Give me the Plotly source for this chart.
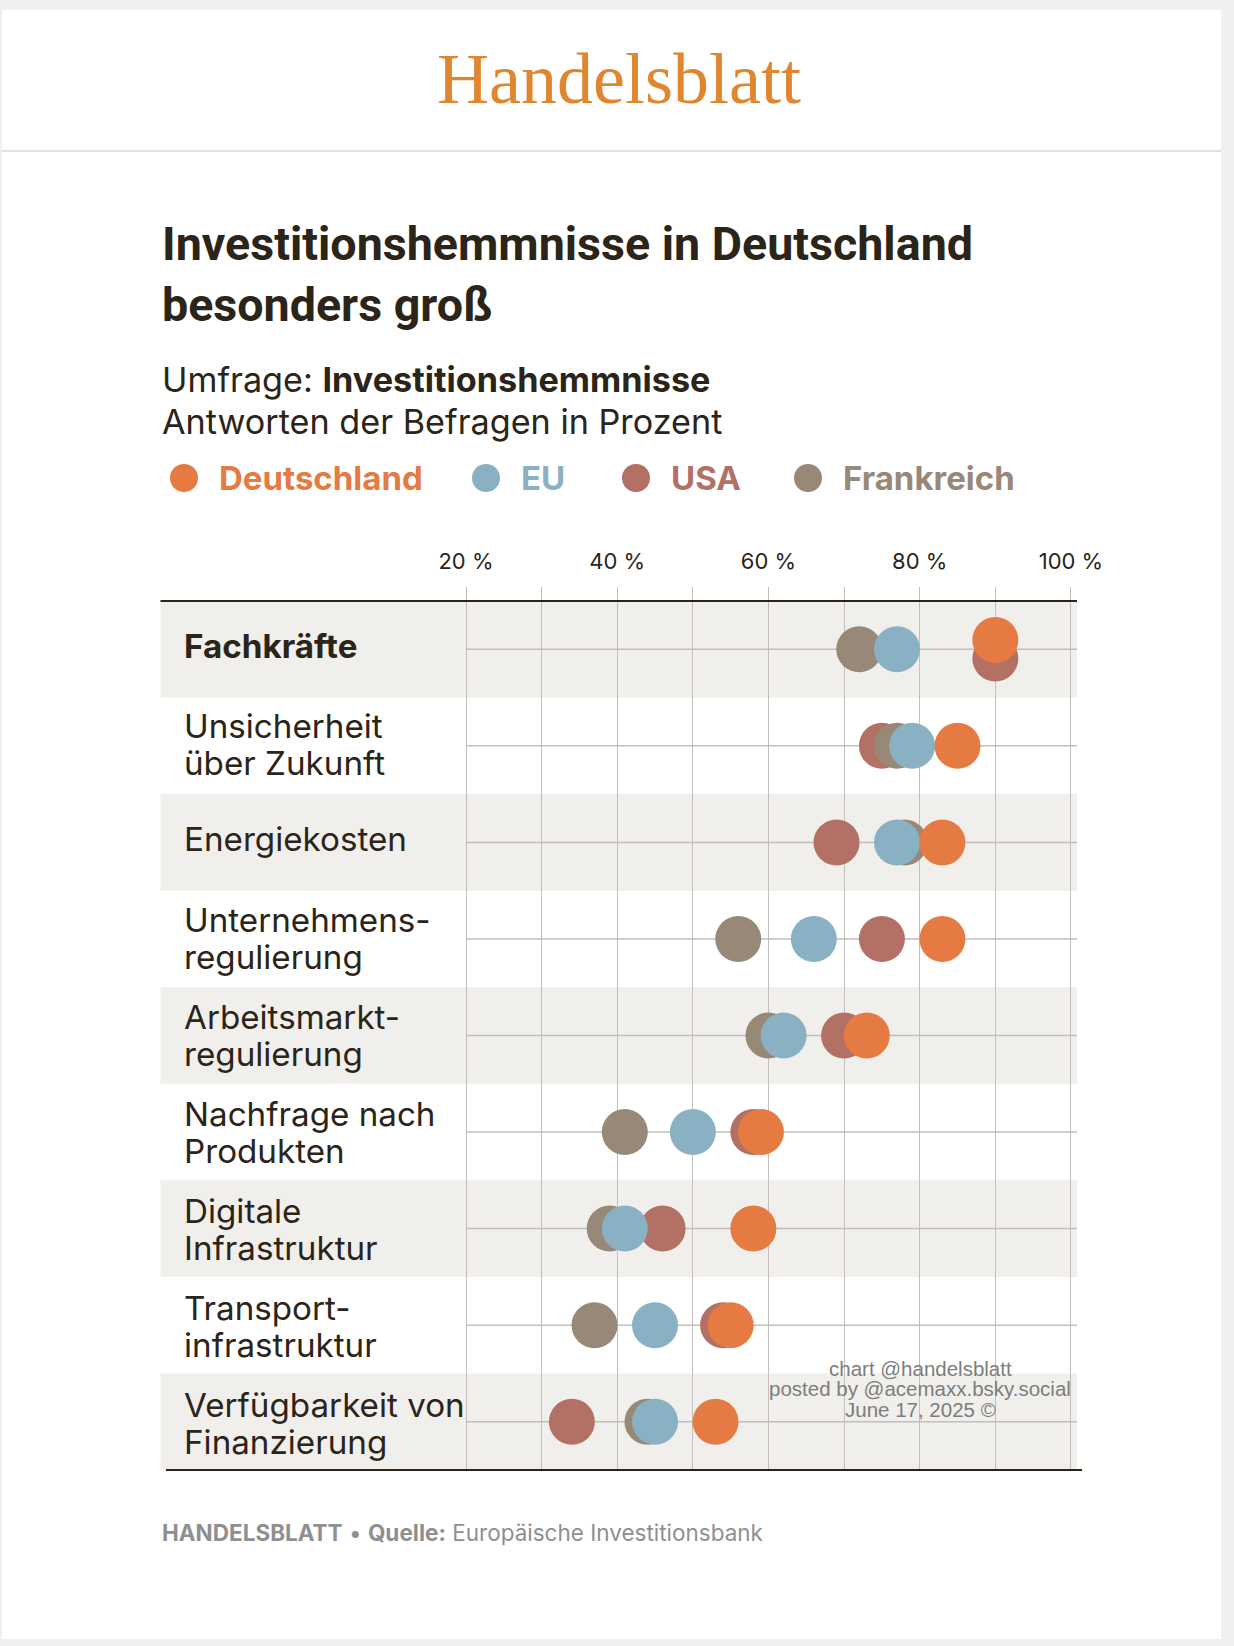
import plotly.graph_objects as go

# ---------------- data ----------------
categories = [
    "Fachkräfte",
    "Unsicherheit<br>über Zukunft",
    "Energiekosten",
    "Unternehmens-<br>regulierung",
    "Arbeitsmarkt-<br>regulierung",
    "Nachfrage nach<br>Produkten",
    "Digitale<br>Infrastruktur",
    "Transport-<br>infrastruktur",
    "Verfügbarkeit von<br>Finanzierung",
]
deutschland = [90, 85, 83, 83, 73, 59, 58, 55, 53]
eu = [77, 79, 77, 66, 62, 50, 41, 45, 45]
usa = [90, 75, 69, 75, 70, 58, 46, 54, 34]
frankreich = [72, 77, 78, 56, 60, 41, 39, 37, 44]

series_names = ["Deutschland", "EU", "USA", "Frankreich"]
tick_values = [20, 40, 60, 80, 100]
tick_labels = ["20 %", "40 %", "60 %", "80 %", "100 %"]
minor_tick_values = [30, 50, 70, 90]

# ---------------- styles ----------------
W, H = 1234, 1646
DARK = "#2b2418"
GRID = "#c3beb9"
BAND = "#f1efec"
COLORS = {
    "Deutschland": "#e57b42",
    "EU": "#8ab0c3",
    "USA": "#b37064",
    "Frankreich": "#978878",
}
SANS = "Inter, Roboto, 'Open Sans', sans-serif"
TITLE_FONT = "Roboto, 'Liberation Sans', sans-serif"


def px(x):
    return x / W


def py(y):
    return 1 - y / H


PLOT_L, PLOT_R, PLOT_T, PLOT_B = 160.5, 1077, 601, 1470
X_MIN, X_MAX = -20.4, 100.8

values = {
    "Deutschland": deutschland,
    "EU": eu,
    "USA": usa,
    "Frankreich": frankreich,
}

# small vertical offsets for exactly coinciding dots (as in the original)
offsets = {n: [0.0] * len(categories) for n in series_names}
for i in range(len(categories)):
    groups = {}
    for n in series_names:
        groups.setdefault(values[n][i], []).append(n)
    for members in groups.values():
        k = len(members)
        if k > 1:
            for j, n in enumerate(members):
                offsets[n][i] = (j - (k - 1) / 2) * 0.19

fig = go.Figure()

draw_order = ["USA", "Frankreich", "EU", "Deutschland"]
for n in draw_order:
    fig.add_trace(
        go.Scatter(
            x=values[n],
            y=[i + offsets[n][i] for i in range(len(categories))],
            mode="markers",
            name=n,
            marker=dict(size=46, color=COLORS[n], line=dict(width=0)),
            showlegend=False,
            hoverinfo="x+name",
        )
    )

shapes = []
# white card + header separator
shapes.append(dict(type="rect", xref="paper", yref="paper", x0=px(2), x1=px(1221),
                   y0=py(1639), y1=py(10), fillcolor="white", line=dict(width=0), layer="below"))
shapes.append(dict(type="line", xref="paper", yref="paper", x0=px(2), x1=px(1221),
                   y0=py(151), y1=py(151), line=dict(color="#e2e2e2", width=2), layer="below"))

# row bands and row centre lines
for i in range(len(categories)):
    if i % 2 == 0:
        shapes.append(dict(type="rect", xref="x domain", yref="y", x0=0, x1=1,
                           y0=i - 0.5, y1=i + 0.5, fillcolor=BAND, line=dict(width=0), layer="below"))
    shapes.append(dict(type="line", xref="x", yref="y", x0=tick_values[0], x1=X_MAX,
                       y0=i, y1=i, line=dict(color=GRID, width=1.5), layer="between"))

# top and bottom rules
shapes.append(dict(type="line", xref="paper", yref="paper", x0=px(PLOT_L), x1=px(PLOT_R),
                   y0=py(PLOT_T), y1=py(PLOT_T), line=dict(color=DARK, width=2)))
shapes.append(dict(type="line", xref="paper", yref="paper", x0=px(166), x1=px(1082),
                   y0=py(PLOT_B), y1=py(PLOT_B), line=dict(color=DARK, width=2)))

annotations = []


def text(x, y, s, size, color=DARK, family=SANS, xanchor="left"):
    annotations.append(dict(x=px(x), y=py(y), xref="paper", yref="paper", text=s,
                            showarrow=False, xanchor=xanchor, yanchor="middle",
                            font=dict(size=size, color=color, family=family)))


# logo
text(619, 79, "Handelsblatt", 72, color="#e0862f",
     family="'Liberation Serif', 'DejaVu Serif', serif", xanchor="center")
# title
text(160, 244, "<b>Investitionshemmnisse in Deutschland</b>", 46.6, family=TITLE_FONT)
text(160, 305, "<b>besonders groß</b>", 46.6, family=TITLE_FONT)
# subtitle
text(160, 380, "Umfrage: <b>Investitionshemmnisse</b>", 34.2)
text(160, 421, "Antworten der Befragen in Prozent", 34.2)

# legend
legend_x = {"Deutschland": 184, "EU": 486, "USA": 636, "Frankreich": 808}
for n in series_names:
    cx, cy, r = legend_x[n], 478, 14
    shapes.append(dict(type="circle", xref="paper", yref="paper",
                       x0=px(cx - r), x1=px(cx + r), y0=py(cy + r), y1=py(cy - r),
                       fillcolor=COLORS[n], line=dict(width=0)))
    text(cx + 33, cy, f"<b>{n}</b>", 33, color=COLORS[n])

# category labels (drawn line by line for tight leading)
LEAD = 37.2
for i, cat in enumerate(categories):
    lines = cat.split("<br>")
    k = len(lines)
    for j, line in enumerate(lines):
        s = f"<b>{line}</b>" if i == 0 else line
        if k == 1:
            shift = 3.5
        else:
            shift = -((j - (k - 1) / 2) * LEAD) + 2 - (0.45 * i + 0.3)
        annotations.append(dict(x=px(182), xref="paper", y=i, yref="y", text=s,
                                showarrow=False, xanchor="left", yanchor="middle",
                                yshift=shift,
                                font=dict(size=33.2, color=DARK, family=SANS)))

# footer
text(160, 1532, "<b>HANDELSBLATT</b> • <b>Quelle:</b> Europäische Investitionsbank", 22.5, color="#8f8f8f")

# watermark
for j, s in enumerate(["chart @handelsblatt", "posted by @acemaxx.bsky.social", "June 17, 2025 ©"]):
    text(920, 1368 + j * 20.5, s, 20.5, color="#7d7d7d",
         family="'Liberation Sans', Arial, sans-serif", xanchor="center")

fig.update_layout(
    width=W,
    height=H,
    margin=dict(l=0, r=0, t=0, b=0, pad=0, autoexpand=False),
    paper_bgcolor="#f0f0f0",
    plot_bgcolor="white",
    showlegend=False,
    shapes=shapes,
    annotations=annotations,
    xaxis=dict(
        domain=[px(PLOT_L), px(PLOT_R)],
        range=[X_MIN, X_MAX],
        side="top",
        automargin=False,
        tickmode="array",
        tickvals=tick_values,
        ticktext=tick_labels,
        tickfont=dict(size=22, color=DARK, family=SANS),
        showgrid=True,
        gridcolor=GRID,
        gridwidth=1.3,
        ticks="outside",
        ticklen=13,
        tickwidth=1.3,
        tickcolor=GRID,
        ticklabelstandoff=9,
        zeroline=False,
        showline=False,
        fixedrange=True,
        minor=dict(tickvals=minor_tick_values, showgrid=True, gridcolor=GRID, gridwidth=1.3,
                   ticks="outside", ticklen=13, tickwidth=1.3, tickcolor=GRID),
    ),
    yaxis=dict(
        domain=[py(PLOT_B), py(PLOT_T)],
        range=[len(categories) - 0.5, -0.5],
        automargin=False,
        showgrid=False,
        showticklabels=False,
        zeroline=False,
        showline=False,
        fixedrange=True,
    ),
)

fig.write_html(
    "out.html",
    post_script="document.body.style.margin='0';",
    config={"displayModeBar": False},
)
